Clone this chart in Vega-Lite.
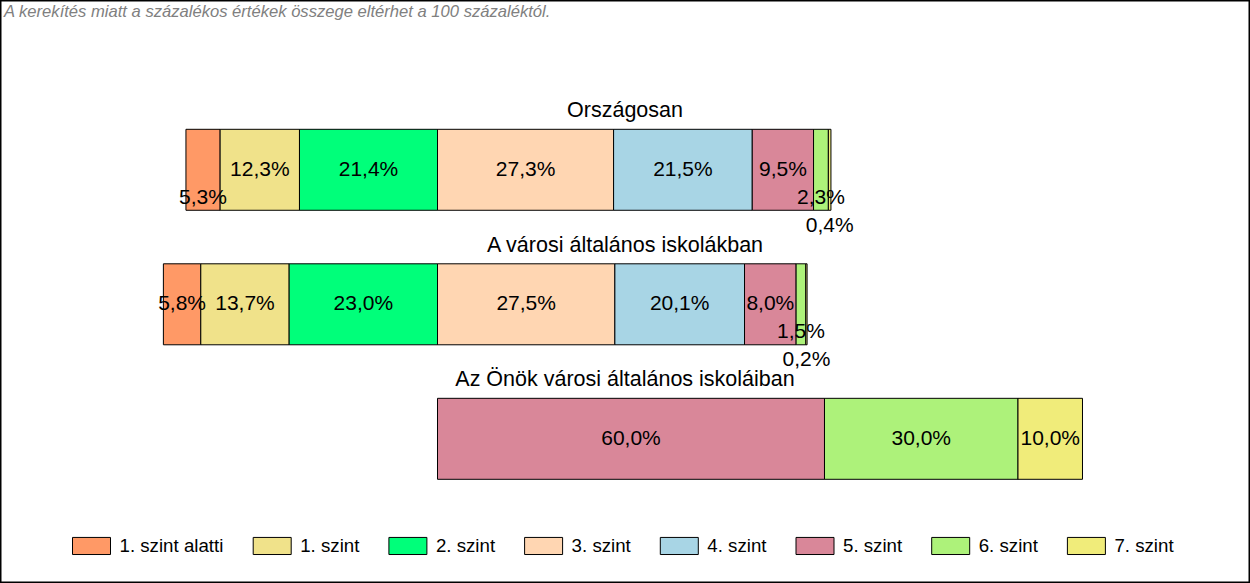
{
  "$schema": "https://vega.github.io/schema/vega-lite/v6.json",
  "width": 1250,
  "height": 583,
  "autosize": "none",
  "padding": 0,
  "background": "white",
  "title": {
    "text": "A kerekítés miatt a  százalékos értékek összege eltérhet a 100 százaléktól.",
    "anchor": "start",
    "frame": "group",
    "orient": "top",
    "offset": -34,
    "baseline": "alphabetic",
    "font": "Liberation Sans",
    "fontSize": 16.6,
    "fontStyle": "italic",
    "fontWeight": "normal",
    "color": "#808080",
    "dx": 4
  },
  "config": {
    "view": {"stroke": "black", "strokeWidth": 3},
    "font": "Liberation Sans"
  },
  "data": {
    "values": [
      {"group": "Országosan", "level": "1. szint alatti", "value": 5.3},
      {"group": "Országosan", "level": "1. szint", "value": 12.3},
      {"group": "Országosan", "level": "2. szint", "value": 21.4},
      {"group": "Országosan", "level": "3. szint", "value": 27.3},
      {"group": "Országosan", "level": "4. szint", "value": 21.5},
      {"group": "Országosan", "level": "5. szint", "value": 9.5},
      {"group": "Országosan", "level": "6. szint", "value": 2.3},
      {"group": "Országosan", "level": "7. szint", "value": 0.4},
      {"group": "A városi általános iskolákban", "level": "1. szint alatti", "value": 5.8},
      {"group": "A városi általános iskolákban", "level": "1. szint", "value": 13.7},
      {"group": "A városi általános iskolákban", "level": "2. szint", "value": 23.0},
      {"group": "A városi általános iskolákban", "level": "3. szint", "value": 27.5},
      {"group": "A városi általános iskolákban", "level": "4. szint", "value": 20.1},
      {"group": "A városi általános iskolákban", "level": "5. szint", "value": 8.0},
      {"group": "A városi általános iskolákban", "level": "6. szint", "value": 1.5},
      {"group": "A városi általános iskolákban", "level": "7. szint", "value": 0.2},
      {"group": "Az Önök városi általános iskoláiban", "level": "5. szint", "value": 60.0},
      {"group": "Az Önök városi általános iskoláiban", "level": "6. szint", "value": 30.0},
      {"group": "Az Önök városi általános iskoláiban", "level": "7. szint", "value": 10.0}
    ]
  },
  "transform": [
    {"calculate": "indexof(['1. szint alatti','1. szint','2. szint','3. szint','4. szint','5. szint','6. szint','7. szint'], datum.level)", "as": "li"},
    {"calculate": "datum.li < 3 ? -datum.value : datum.value", "as": "sv"},
    {"calculate": "datum.li < 3 ? -datum.li : datum.li", "as": "ord"},
    {"stack": "sv", "groupby": ["group"], "sort": [{"field": "ord", "order": "ascending"}], "as": ["x0", "x1"], "offset": "zero"},
    {"calculate": "(datum.x0 + datum.x1) / 2", "as": "xm"},
    {"calculate": "replace(format(datum.value, '.1f'), '.', ',') + '%'", "as": "label"}
  ],
  "layer": [
    {
      "mark": {"type": "bar", "stroke": "black", "strokeWidth": 1, "opacity": 1},
      "encoding": {
        "y": {
          "field": "group", "type": "nominal", "axis": null,
          "scale": {
            "domain": ["Országosan", "A városi általános iskolákban", "Az Önök városi általános iskoláiban"],
            "range": [129.3, 479.3], "paddingInner": 0.398, "paddingOuter": 0
          }
        },
        "x": {"field": "x0", "type": "quantitative", "axis": null, "scale": {"domain": [-67.83, 125.97], "nice": false, "zero": false}},
        "x2": {"field": "x1"},
        "fill": {
          "field": "level", "type": "nominal",
          "scale": {
            "domain": ["1. szint alatti", "1. szint", "2. szint", "3. szint", "4. szint", "5. szint", "6. szint", "7. szint"],
            "range": ["#FF9966", "#F0E28A", "#00FF7A", "#FFD6B2", "#A8D5E5", "#D98799", "#ADF27A", "#F0EC7A"]
          },
          "legend": {
            "orient": "none", "legendX": 72, "legendY": 526, "direction": "horizontal", "columns": 8,
            "title": null, "symbolType": "M-1,-0.45H1V0.45H-1Z", "symbolSize": 1444,
            "symbolStrokeColor": "black", "symbolStrokeWidth": 1, "symbolOpacity": 1,
            "labelFontSize": 18.7, "labelFont": "Liberation Sans", "labelColor": "black",
            "labelOffset": 8.5, "columnPadding": 26.7, "padding": 0
          }
        }
      }
    },
    {
      "transform": [{"filter": "datum.value >= 5.5"}],
      "mark": {"type": "text", "fontSize": 21, "color": "black", "font": "Liberation Sans"},
      "encoding": {
        "y": {"field": "group", "type": "nominal"},
        "x": {"field": "xm", "type": "quantitative"},
        "text": {"field": "label"}
      }
    },
    {
      "transform": [{"filter": "datum.value >= 1 && datum.value < 5.5"}],
      "mark": {"type": "text", "fontSize": 21, "color": "black", "font": "Liberation Sans", "dy": 28},
      "encoding": {
        "y": {"field": "group", "type": "nominal"},
        "x": {"field": "xm", "type": "quantitative"},
        "text": {"field": "label"}
      }
    },
    {
      "transform": [{"filter": "datum.value < 1"}],
      "mark": {"type": "text", "fontSize": 21, "color": "black", "font": "Liberation Sans", "dy": 56},
      "encoding": {
        "y": {"field": "group", "type": "nominal"},
        "x": {"field": "xm", "type": "quantitative"},
        "text": {"field": "label"}
      }
    },
    {
      "transform": [{"aggregate": [{"op": "count", "as": "n"}], "groupby": ["group"]}],
      "mark": {"type": "text", "fontSize": 21.5, "color": "black", "font": "Liberation Sans", "baseline": "alphabetic", "dy": -12, "x": {"expr": "width / 2"}},
      "encoding": {
        "y": {"field": "group", "type": "nominal", "bandPosition": 0},
        "text": {"field": "group"}
      }
    }
  ]
}
